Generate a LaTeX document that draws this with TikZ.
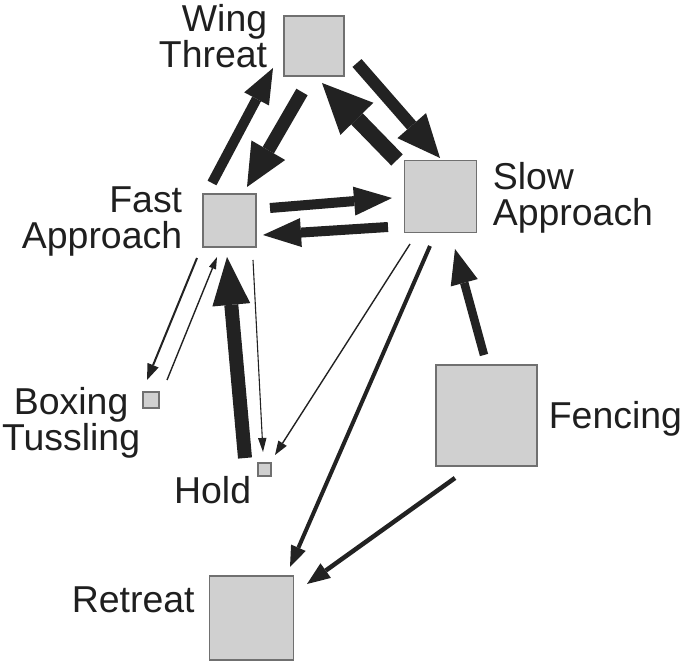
\documentclass[tikz,border=0pt]{standalone}
\usepackage{fontspec}
\setmainfont{Liberation Sans}
\usetikzlibrary{arrows.meta, positioning}
\definecolor{boxfill}{RGB}{208, 208, 208}
\definecolor{boxedge}{RGB}{112, 112, 112}
\definecolor{arrowdark}{RGB}{34, 34, 34}

\begin{document}
\begin{tikzpicture}[
    x=0.02cm, y=-0.02cm,
    act/.style={rectangle, draw=boxedge, fill=boxfill, line width=0.6pt,
                minimum size=#1, inner sep=0pt},
    lbl/.style={font=\fontsize{21.3}{20.6}\selectfont, inner sep=0pt, text=black!88},
    link/.style n args={3}{draw=arrowdark, line width=#1,
                -{Triangle[length=#2, width=#3, line width=0pt]}}
]
\useasboundingbox (0,0) rectangle (683,665);

% =========== behaviour boxes (size ~ frequency) ===========
\node[act=1.2cm]  (wing)    at (314,46)      {};
\node[act=1.06cm] (fast)    at (229.5,220.5) {};
\node[act=1.44cm] (slow)    at (440.5,196.5) {};
\node[act=0.32cm] (boxing)  at (151,400)     {};
\node[act=0.26cm] (hold)    at (264.5,469.5) {};
\node[act=2.02cm] (fencing) at (486.5,415.5) {};
\node[act=1.68cm] (retreat) at (251.5,618)   {};

\node[lbl, align=right, anchor=east]  (wingtxt)    at ([shift={(-16,-10)}]wing.west)    {Wing\\Threat};
\node[lbl, align=right, anchor=east]  (fasttxt)    at ([shift={(-20,1)}]fast.west)      {Fast\\Approach};
\node[lbl, align=left, anchor=west]   (slowtxt)    at ([shift={(15.5,1)}]slow.east)     {Slow\\Approach};
\node[lbl, align=center, anchor=east] (boxingtxt)  at ([shift={(-2,23)}]boxing.west)    {Boxing\\Tussling};
\node[lbl, anchor=north east]         (holdtxt)    at ([shift={(-6,0)}]hold.south west) {Hold};
\node[lbl, anchor=west]               (fencingtxt) at ([shift={(11,3.5)}]fencing.east)  {Fencing};
\node[lbl, anchor=east]               (retreattxt) at ([shift={(-14,-18.5)}]retreat.west) {Retreat};

% =========== transitions (width ~ probability) ===========
\draw[link={0.2cm}{0.7cm}{0.56cm}]   ([shift={(-17.5,-37.5)}]fast.center) -- ([shift={(-41,22)}]wing.center);
\draw[link={0.26cm}{0.85cm}{0.78cm}] ([shift={(-12,46)}]wing.center)      -- ([shift={(17.5,-33.5)}]fast.center);
\draw[link={0.32cm}{1.0cm}{0.92cm}]  ([shift={(-43.5,-36.5)}]slow.center) -- ([shift={(8,37)}]wing.center);
\draw[link={0.24cm}{0.86cm}{0.76cm}] ([shift={(43,17)}]wing.center)       -- ([shift={(-0.5,-38.5)}]slow.center);
\draw[link={0.2cm}{0.76cm}{0.58cm}]  ([shift={(40.5,-12.5)}]fast.center)  -- ([shift={(-48.5,1.5)}]slow.center);
\draw[link={0.2cm}{0.76cm}{0.58cm}]  ([shift={(-52.5,30.5)}]slow.center)  -- ([shift={(33.5,14.5)}]fast.center);

\draw[link={0.04cm}{0.32cm}{0.24cm}]  ([shift={(-32.5,37.5)}]fast.center) -- ([shift={(-4,-20)}]boxing.center);
\draw[link={0.028cm}{0.24cm}{0.15cm}] ([shift={(16,-20)}]boxing.center)   -- ([shift={(-12.5,36.5)}]fast.center);
\draw[link={0.28cm}{0.96cm}{0.76cm}]  ([shift={(-19.5,-11.5)}]hold.center) -- ([shift={(-2.5,36.5)}]fast.center);
\draw[link={0.022cm}{0.28cm}{0.17cm}] ([shift={(23.5,39.5)}]fast.center)   -- ([shift={(-1.5,-17.5)}]hold.center);
\draw[link={0.028cm}{0.28cm}{0.2cm}]  ([shift={(-30.5,47.5)}]slow.center)  -- ([shift={(10.5,-14.5)}]hold.center);

\draw[link={0.08cm}{0.42cm}{0.32cm}]  ([shift={(-10.5,49.5)}]slow.center)     -- ([shift={(38.5,-51)}]retreat.center);
\draw[link={0.09cm}{0.46cm}{0.36cm}]  ([shift={(-31.5,62.5)}]fencing.center)  -- ([shift={(55.5,-34)}]retreat.center);
\draw[link={0.17cm}{0.7cm}{0.56cm}]   ([shift={(-2.5,-60.5)}]fencing.center)  -- ([shift={(14.5,52.5)}]slow.center);

\end{tikzpicture}
\end{document}
